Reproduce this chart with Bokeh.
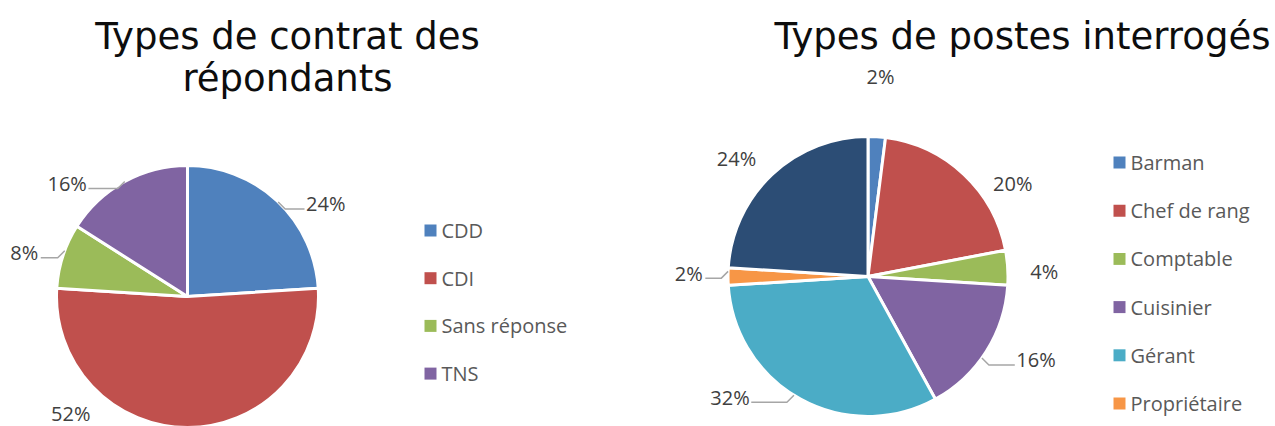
import math
from bokeh.plotting import figure
from bokeh.models import Range1d, ColumnDataSource
from bokeh.core.properties import value
from bokeh.embed import file_html
from bokeh.resources import INLINE

# ---------------- data ----------------
contrat_labels = ["CDD", "CDI", "Sans réponse", "TNS"]
contrat_values = [24, 52, 8, 16]
contrat_colors = ["#4F81BD", "#C0504D", "#9BBB59", "#8064A2"]

postes_labels = ["Barman", "Chef de rang", "Comptable", "Cuisinier", "Gérant", "Propriétaire", "Serveur"]
postes_values = [2, 20, 4, 16, 32, 2, 24]
postes_colors = ["#4F81BD", "#C0504D", "#9BBB59", "#8064A2", "#4BACC6", "#F79646", "#2C4D75"]
postes_legend_count = 6  # the 7th legend row falls outside the picture

title_left = ["Types de contrat des", "répondants"]
title_right = ["Types de postes interrogés"]

# ---------------- layout (screen pixels of the picture) ----------------
W, H = 1275, 426
def dx(X):
    return X
def dy(Y):
    return H - Y

# label placement: (angle nudge in degrees, distance factor)
contrat_lbl = [(13, 1.27), (45, 1.26), (-3, 1.29), (-18, 1.26)]
contrat_leader = [True, False, True, True]
postes_lbl = [(0, 1.43), (14, 1.23), (2, 1.26), (-6, 1.34), (20, 1.31), (1, 1.28), (-5, 1.26)]
postes_leader = [False, False, False, True, True, True, False]

p = figure(width=W, height=H, x_range=Range1d(0, W), y_range=Range1d(0, H),
           output_backend="svg", toolbar_location=None, min_border=0)
p.axis.visible = False
p.grid.visible = False
p.outline_line_color = None
p.background_fill_color = "white"
p.border_fill_color = "white"

LBL_FONT = value("Open Sans")
LBL_COLOR = "#404040"


def draw_pie(cx, cy, r, values, colors, lbl_cfg, leaders):
    total = float(sum(values))
    starts, ends, mids = [], [], []
    cum = 0.0
    for v in values:
        a0 = cum / total
        cum += v
        a1 = cum / total
        starts.append(math.radians(90 - 360 * a0))
        ends.append(math.radians(90 - 360 * a1))
        mids.append(360 * (a0 + a1) / 2)  # degrees clockwise from top
    src = ColumnDataSource(dict(x=[dx(cx)] * len(values), y=[dy(cy)] * len(values),
                                start=starts, end=ends, color=colors))
    p.wedge(x="x", y="y", radius=r, start_angle="start", end_angle="end",
            direction="clock", fill_color="color", line_color="white", line_width=3,
            source=src)
    lx, ly, txt = [], [], []
    for i, v in enumerate(values):
        nud, fac = lbl_cfg[i]
        ang = math.radians(mids[i] + nud)
        X = cx + r * fac * math.sin(ang)
        Y = cy - r * fac * math.cos(ang)
        lx.append(dx(X)); ly.append(dy(Y))
        t = f"{round(100 * v / total)}%"
        txt.append(t)
        if leaders[i]:
            half = 5 + 9.5 * len(t) / 2
            side = 1 if X > cx else -1
            p2 = (X - side * (half + 2), Y + 5)
            ylev = p2[1] - 7 if p2[1] < cy else p2[1] - 7
            ddy = ylev - cy
            ddx = math.sqrt(max(r * r - ddy * ddy, 0.0))
            p0 = (cx + side * ddx, ylev)
            p1 = (p0[0] + side * 7, p2[1])
            p.line([dx(p0[0]), dx(p1[0]), dx(p2[0])], [dy(p0[1]), dy(p1[1]), dy(p2[1])],
                   line_color="#A6A6A6", line_width=1.5)
    p.text(x=lx, y=ly, text=txt, text_font=LBL_FONT, text_font_size="20px",
           text_color=LBL_COLOR, text_align="center", text_baseline="middle")


def draw_legend(x0, y0, step, labels, colors):
    xs, ys = [], []
    for i in range(len(labels)):
        xs.append(dx(x0 + 6)); ys.append(dy(y0 + i * step))
    p.rect(x=xs, y=ys, width=12, height=12, fill_color=colors, line_color=None)
    p.text(x=[dx(x0 + 17)] * len(labels), y=ys, text=labels, text_font=LBL_FONT,
           text_font_size="20px", text_color="#595959", text_align="left",
           text_baseline="middle")


draw_pie(187, 296, 131, contrat_values, contrat_colors, contrat_lbl, contrat_leader)
draw_pie(867.5, 276, 140, postes_values, postes_colors, postes_lbl, postes_leader)

draw_legend(424, 230, 47.7, contrat_labels, contrat_colors)
draw_legend(1113, 162, 48.2, postes_labels[:postes_legend_count], postes_colors[:postes_legend_count])

TITLE_FONT = value("DejaVu Sans")
p.text(x=[dx(287)] * 2, y=[dy(36), dy(78)], text=title_left, text_font=TITLE_FONT,
       text_font_size="37px", text_color="#0D0D0D", text_align="center", text_baseline="middle")
p.text(x=[dx(1022)], y=[dy(36)], text=title_right, text_font=TITLE_FONT,
       text_font_size="37px", text_color="#0D0D0D", text_align="center", text_baseline="middle")

open("out.html", "w").write(file_html(p, INLINE))
